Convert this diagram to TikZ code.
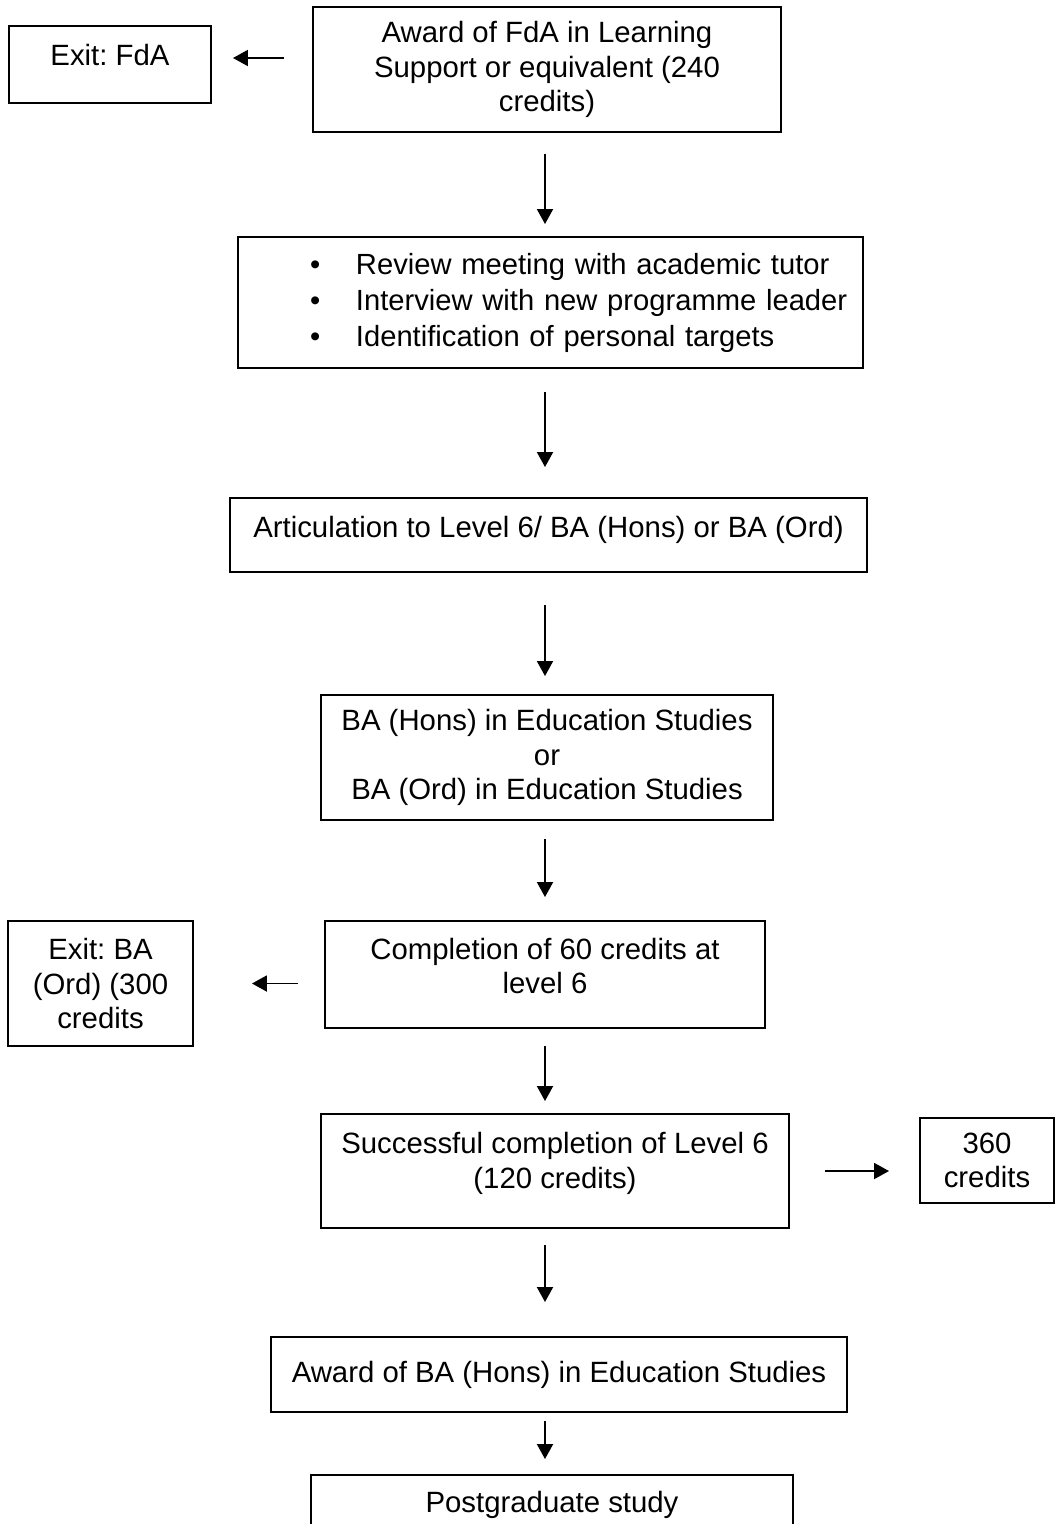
\documentclass[tikz,border=0pt]{standalone}
\usepackage{fontspec}
\setmainfont{Liberation Sans}
\usepackage{tikz}
\usetikzlibrary{arrows.meta}
\frenchspacing
\newcommand\padbelow[1]{\rule[-#1]{0pt}{#1}}

\begin{document}
\begin{tikzpicture}[box/.style = {draw, line width=1.1pt, align=center, inner sep=0pt, font=\fontsize{16.7pt}{19.6pt}\selectfont}, flow/.style = {line width=1.1pt, -{Triangle[length=3mm, width=3.2mm]}}]
	\useasboundingbox (0, 0) rectangle (21.1, -30.48);
	\clip (0, 0) rectangle (21.1, -30.48);
	\coordinate (spine) at (10.9, 0);
	\node[box, minimum width=4.04cm, minimum height=1.54cm] (exitfda) at (2.2, -1.29){Exit: FdA\padbelow{0.39cm}};
	\node[box, minimum width=9.36cm, minimum height=2.5cm] (fda) at (10.94, -1.39){Award of FdA in Learning\\Support or equivalent (240\\credits)};
	\node[box, minimum width=12.5cm, minimum height=2.62cm, text width=12.5cm, align=left, font=\fontsize{16.6pt}{20.5pt}\selectfont] (review) at (11.01, -6.05){%
		\hspace*{1.44cm}\makebox[0.92cm][l]{\textbullet}Review meeting with academic tutor\\
		\hspace*{1.44cm}\makebox[0.92cm][l]{\textbullet}Interview with new programme leader\\
		\hspace*{1.44cm}\makebox[0.92cm][l]{\textbullet}Identification of personal targets};
	\node[box, minimum width=12.74cm, minimum height=1.48cm] (artic) at (10.97, -10.7){Articulation to Level 6/ BA (Hons) or BA (Ord)\padbelow{0.33cm}};
	\node[box, minimum width=9.04cm, minimum height=2.5cm] (ba) at (10.94, -15.15){BA (Hons) in Education Studies\\or\\BA (Ord) in Education Studies};
	\node[box, minimum width=3.7cm, minimum height=2.5cm] (exitba) at (2.01, -19.67){Exit: BA\\(Ord) (300\\credits};
	\node[box, minimum width=8.8cm, minimum height=2.14cm] (credits60) at (10.9, -19.49){Completion of 60 credits at\\level 6\padbelow{0.34cm}};
	\node[box, minimum width=9.36cm, minimum height=2.28cm] (level6) at (11.1, -23.42){Successful completion of Level 6\\(120 credits)\padbelow{0.43cm}};
	\node[box, minimum width=2.68cm, minimum height=1.7cm] (credits360) at (19.74, -23.21){360\\credits};
	\node[box, minimum width=11.52cm, minimum height=1.5cm] (hons) at (11.18, -27.49){Award of BA (Hons) in Education Studies};
	\node[box, minimum width=9.64cm, minimum height=1.2cm] (pg) at (11.04, -30.1){Postgraduate study};
	\draw[flow, shorten <=5.6mm, shorten >=4.2mm] ([yshift=1.3mm]fda.west |- exitfda.east) -- ([yshift=1.3mm]exitfda.east);
	\draw[flow, shorten <=4.2mm, shorten >=2.4mm] (fda.south -| spine) -- (review.north -| spine);
	\draw[flow, shorten <=4.6mm, shorten >=6mm] (review.south -| spine) -- (artic.north -| spine);
	\draw[flow, shorten <=6.4mm, shorten >=3.6mm] (artic.south -| spine) -- (ba.north -| spine);
	\draw[flow, shorten <=3.6mm, shorten >=4.6mm] (ba.south -| spine) -- (credits60.north -| spine);
	\draw[flow, shorten <=5.2mm, shorten >=11.6mm] (credits60.west |- exitba.east) -- (exitba.east);
	\draw[flow, shorten <=3.4mm, shorten >=2.4mm] (credits60.south -| spine) -- (level6.north -| spine);
	\draw[flow, shorten <=7mm, shorten >=6mm] (level6.east) -- (credits360.west |- level6.east);
	\draw[flow, shorten <=3.2mm, shorten >=6.8mm] (level6.south -| spine) -- (hons.north -| spine);
	\draw[flow, shorten <=1.6mm, shorten >=3mm] (hons.south -| spine) -- (pg.north -| spine);
\end{tikzpicture}
\end{document}
